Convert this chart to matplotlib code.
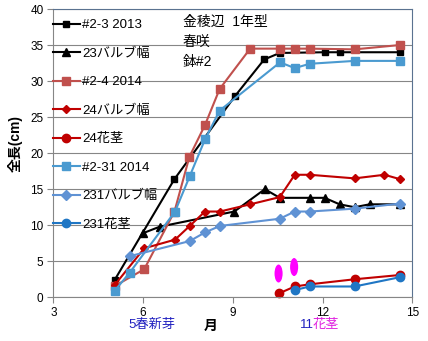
import matplotlib
matplotlib.use("Agg")
import matplotlib.pyplot as plt
from matplotlib.patches import Ellipse

plt.rcParams['font.family'] = ['Liberation Sans', 'Noto Sans CJK JP']

# growth records (month, length in cm)
x_2_3_2013 = [5.05, 7.05, 9.07, 10.05, 10.57, 12.07, 12.57, 14.58]
y_2_3_2013 = [2.4, 16.4, 27.9, 33.0, 33.9, 34.0, 34.0, 34.0]

x_23_bulb = [6.0, 6.56, 9.05, 10.07, 10.57, 11.57, 12.07, 12.57, 13.07, 13.57, 14.58]
y_23_bulb = [8.9, 9.8, 11.9, 15.0, 13.8, 13.8, 13.8, 12.9, 12.5, 12.9, 12.9]

x_2_4_2014 = [5.07, 6.04, 7.05, 7.55, 8.07, 8.56, 9.58, 10.58, 11.07, 11.57, 13.07, 14.58]
y_2_4_2014 = [1.6, 3.9, 11.9, 19.5, 23.9, 28.9, 34.5, 34.5, 34.5, 34.5, 34.4, 35.0]

x_24_bulb = [5.05, 6.04, 7.07, 7.56, 8.07, 8.57, 9.58, 10.57, 11.07, 11.57, 13.07, 14.07, 14.58]
y_24_bulb = [1.7, 6.8, 8.0, 9.9, 11.9, 11.9, 12.9, 13.9, 17.0, 17.0, 16.5, 17.0, 16.4]

x_24_stem = [10.55, 11.07, 11.57, 13.07, 14.6]
y_24_stem = [0.55, 1.5, 1.8, 2.5, 3.1]

x_2_31_2014 = [5.05, 5.55, 7.07, 7.56, 8.07, 8.56, 10.58, 11.07, 11.57, 13.07, 14.58]
y_2_31_2014 = [0.9, 3.4, 11.9, 16.8, 21.9, 25.9, 32.6, 31.8, 32.4, 32.8, 32.8]

x_231_bulb = [5.55, 7.56, 8.07, 8.57, 10.57, 11.07, 11.57, 13.07, 14.58]
y_231_bulb = [5.7, 7.8, 9.0, 9.9, 10.9, 11.9, 11.9, 12.3, 13.0]

x_231_stem = [11.07, 11.57, 13.07, 14.6]
y_231_stem = [1.0, 1.5, 1.5, 2.8]

labels = ['#2-3 2013', '23バルブ幅', '#2-4 2014', '24バルブ幅', '24花茎',
          '#2-31 2014', '231バルブ幅', '231花茎']

fig = plt.figure(figsize=(4.28, 3.41), dpi=100)
ax = fig.add_axes([53.3 / 428, 1 - 297.3 / 341, (412.3 - 53.3) / 428, (297.3 - 9) / 341])

series = [
    (x_2_3_2013, y_2_3_2013, dict(color='#000000', marker='s', ms=4.5)),
    (x_23_bulb, y_23_bulb, dict(color='#000000', marker='^', ms=6)),
    (x_2_4_2014, y_2_4_2014, dict(color='#C0504D', marker='s', ms=6)),
    (x_24_bulb, y_24_bulb, dict(color='#C00000', marker='D', ms=4.5)),
    (x_24_stem, y_24_stem, dict(color='#C00000', marker='o', ms=6)),
    (x_2_31_2014, y_2_31_2014, dict(color='#4A9AD0', marker='s', ms=6)),
    (x_231_bulb, y_231_bulb, dict(color='#5F92D4', marker='D', ms=5)),
    (x_231_stem, y_231_stem, dict(color='#1F76C4', marker='o', ms=6)),
]

handles = []
for (xs, ys, st), lab in zip(series, labels):
    ln, = ax.plot(xs, ys, lw=1.5, label=lab, clip_on=False, **st)
    handles.append(ln)

# flower stem buds
for cx, cy in [(10.53, 3.3), (11.05, 4.2)]:
    ax.add_patch(Ellipse((cx, cy), 0.27, 2.5, color='#FF00FF', zorder=5, lw=0))

ax.set_xlim(3, 15)
ax.set_ylim(0, 40)
ax.set_xticks([3, 6, 9, 12, 15])
ax.set_yticks(range(0, 41, 5))
ax.tick_params(labelsize=8.5, length=4, width=0.8, color='#868686', pad=3)
ax.yaxis.grid(True, color='#868686', lw=0.8)
ax.set_axisbelow(True)
for s in ['left', 'bottom']:
    ax.spines[s].set_color('#868686')
    ax.spines[s].set_linewidth(0.8)
for s in ['top', 'right']:
    ax.spines[s].set_color('#5A7290')
    ax.spines[s].set_linewidth(0.8)

ax.legend(handles=handles, loc='upper left', bbox_to_anchor=(0, 0.965),
          frameon=False, borderaxespad=0, borderpad=0, handlelength=2.0,
          handletextpad=0.2, labelspacing=1.23, fontsize=9.5)

fig.text(183 / 428, 1 - 22 / 341, '金稜辺  1年型', fontsize=10, va='center', ha='left')
fig.text(183 / 428, 1 - 42 / 341, '春咲', fontsize=10, va='center', ha='left')
fig.text(183 / 428, 1 - 62 / 341, '鉢#2', fontsize=10, va='center', ha='left')

fig.text(15 / 428, 1 - 143 / 341, '全長(cm)', fontsize=10, fontweight='bold',
         rotation=90, va='center', ha='center')
fig.text(211 / 428, 1 - 326 / 341, '月', fontsize=10, fontweight='bold',
         va='center', ha='center')
fig.text(128 / 428, 1 - 325 / 341, '5春新芽', fontsize=9.5, color='#2020C0',
         va='center', ha='left')
fig.text(300 / 428, 1 - 325 / 341, '11', fontsize=9.5, color='#2020C0',
         va='center', ha='left')
fig.text(313 / 428, 1 - 325 / 341, '花茎', fontsize=9.5, color='#E020E0',
         va='center', ha='left')

fig.savefig('out.png', dpi=100)
